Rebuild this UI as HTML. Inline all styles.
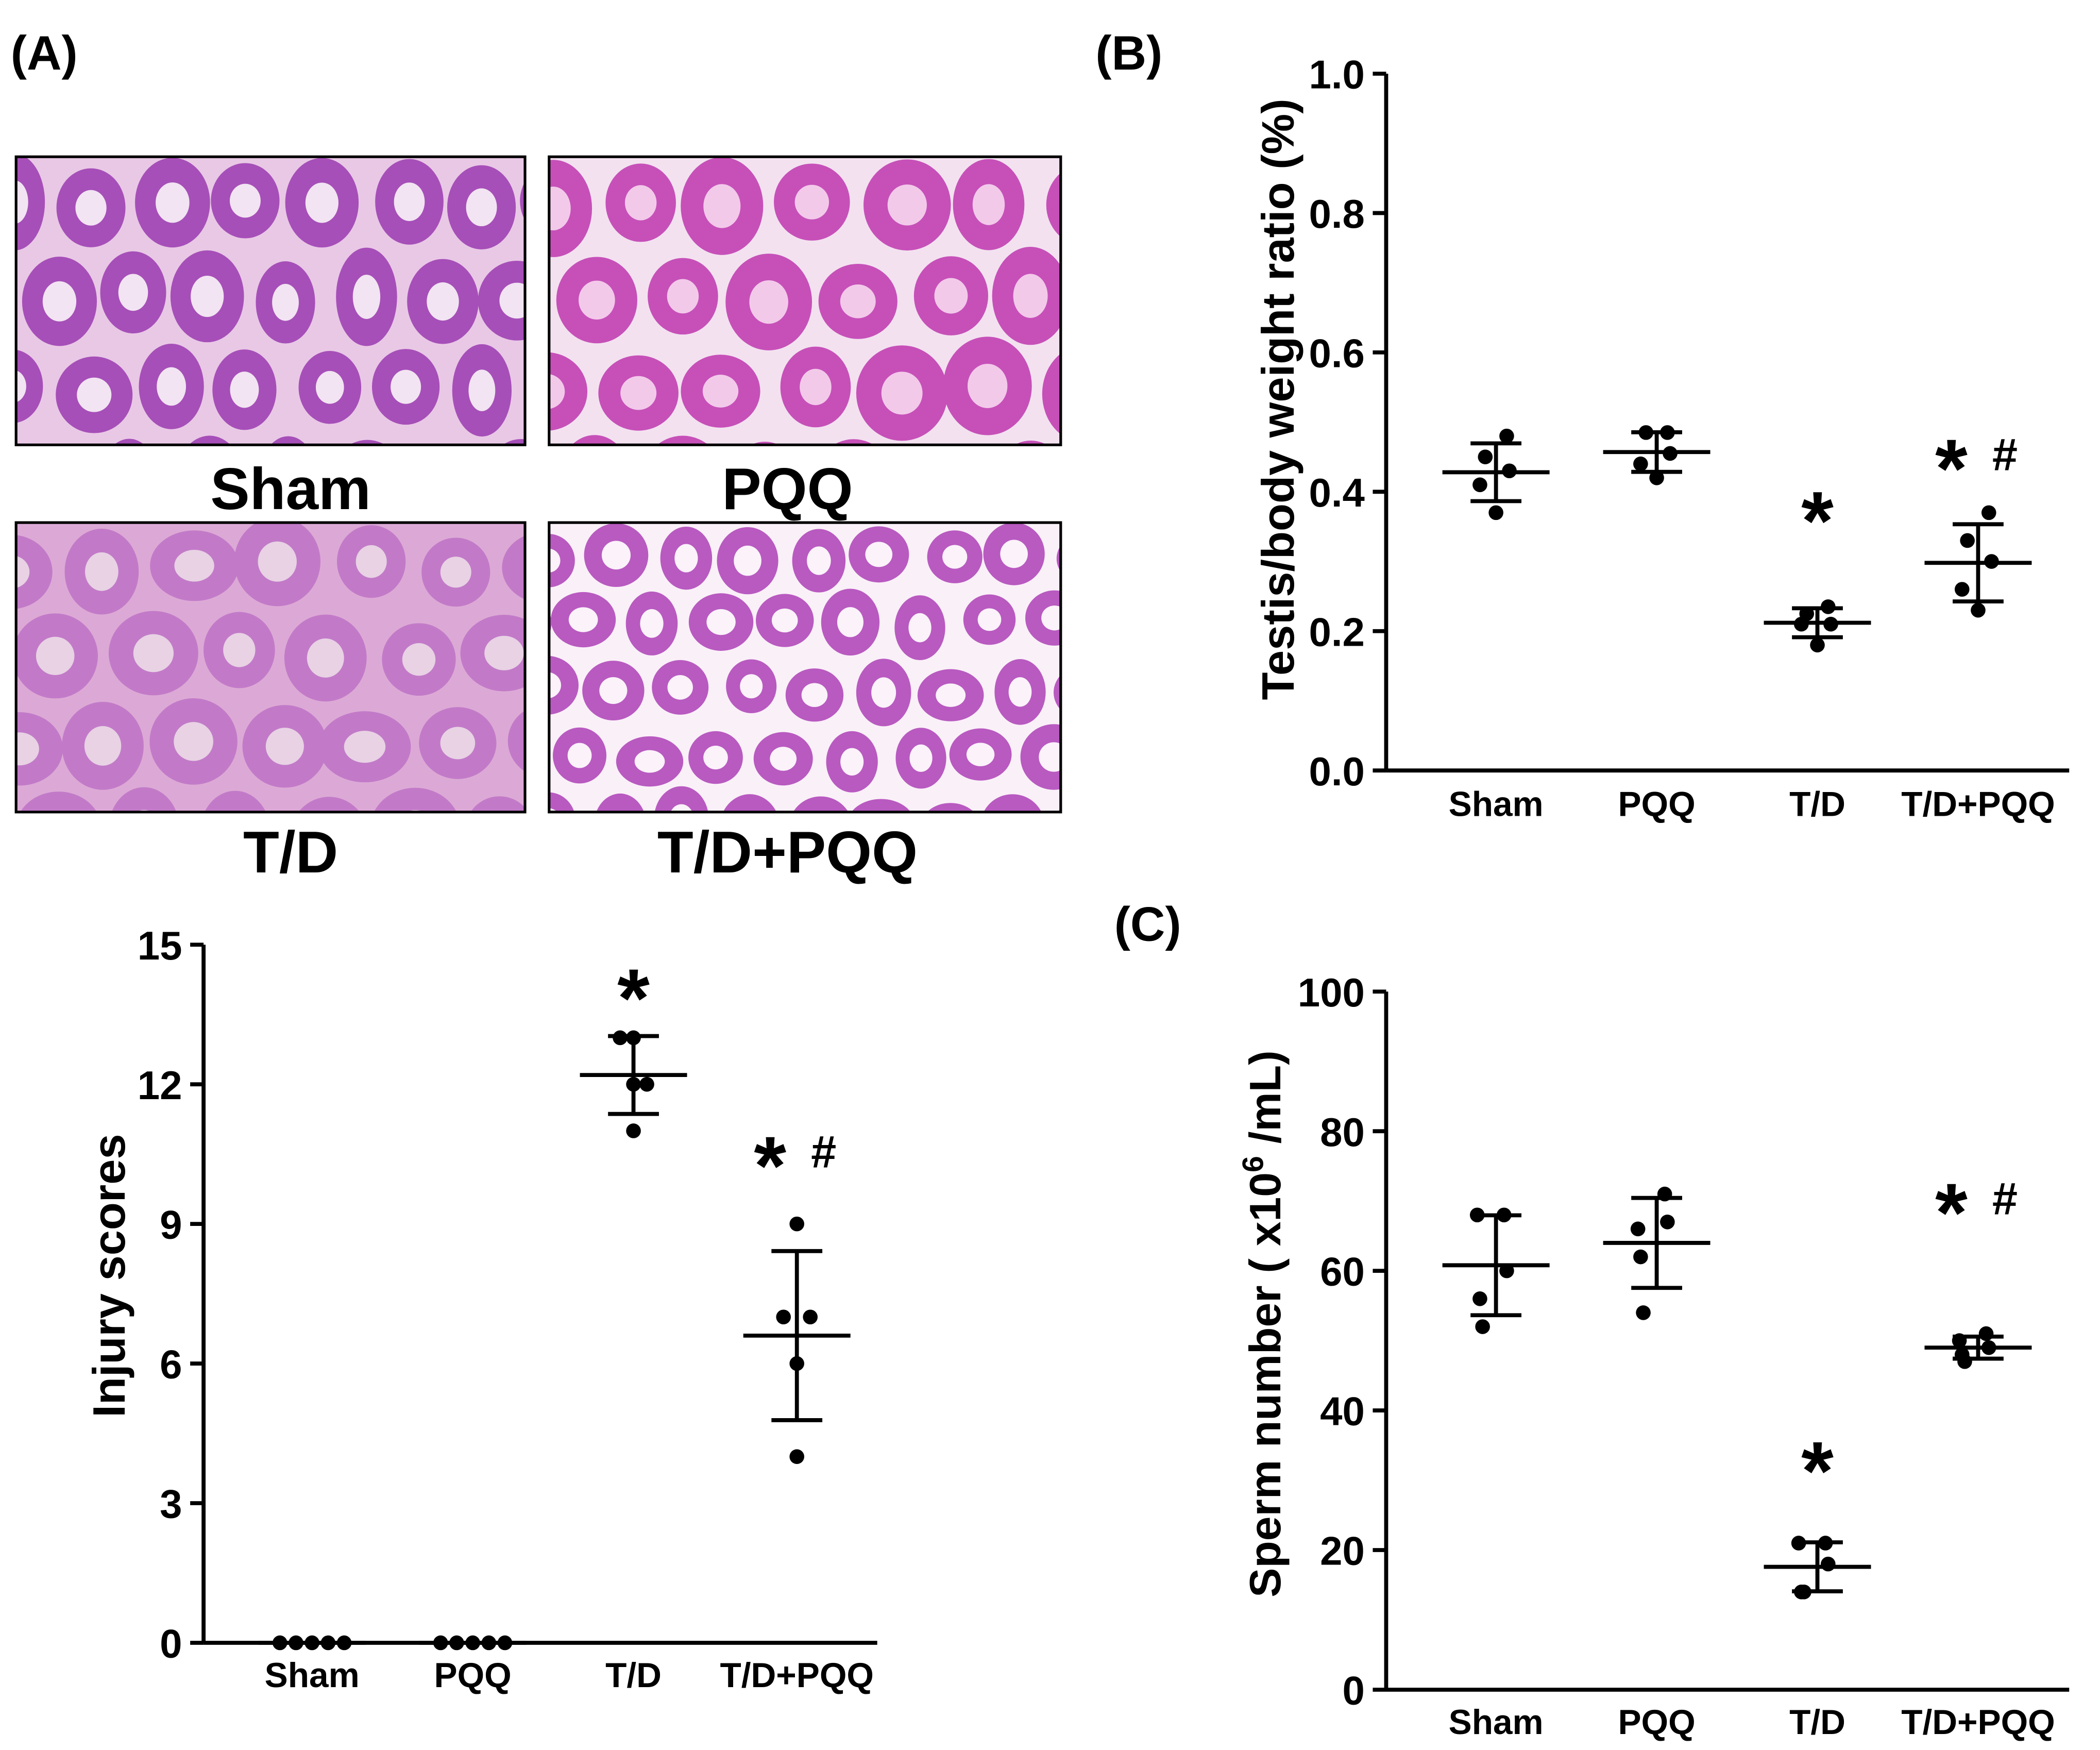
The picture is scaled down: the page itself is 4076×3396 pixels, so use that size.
<!DOCTYPE html>
<html><head><meta charset="utf-8">
<style>
html,body{margin:0;padding:0;background:#fff;}
svg{display:block;}
text{font-family:"Liberation Sans",Arial,sans-serif;font-weight:bold;fill:#000;}
</style></head>
<body>
<svg id="fig" width="4076" height="3396" viewBox="0 0 1568 1306" preserveAspectRatio="none" xmlns="http://www.w3.org/2000/svg">
<rect width="1568" height="1306" fill="#fff"/>
<text x="8" y="52" font-size="36">(A)</text>
<text x="818" y="52" font-size="36">(B)</text>
<text x="832" y="702" font-size="36">(C)</text>
<g id="histo"></g>
<text x="217" y="380" font-size="44" text-anchor="middle">Sham</text>
<text x="588" y="380" font-size="44" text-anchor="middle">PQQ</text>
<text x="217" y="651" font-size="44" text-anchor="middle">T/D</text>
<text x="588" y="651" font-size="44" text-anchor="middle">T/D+PQQ</text>
<g id="charts"></g>
</svg>
<script>
const NS="http://www.w3.org/2000/svg";
const categories=["Sham","PQQ","T/D","T/D+PQQ"];
// Panel B: testis/body weight ratio
const ratioValues=[[0.48,0.45,0.43,0.41,0.37],[0.485,0.485,0.455,0.44,0.42],[0.235,0.225,0.21,0.21,0.18],[0.37,0.33,0.30,0.26,0.23]];
const ratioTicks=["0.0","0.2","0.4","0.6","0.8","1.0"];
const ratioTickValues=[0,0.2,0.4,0.6,0.8,1.0];
const ratioMarks=["","","*","* #"];
const ratioMarkLevels=[0,0,0.375,0.45];
// Injury scores
const injuryValues=[[0,0,0,0,0],[0,0,0,0,0],[13,13,12,12,11],[9,7,7,6,4]];
const injuryTicks=["0","3","6","9","12","15"];
const injuryTickValues=[0,3,6,9,12,15];
const injuryMarks=["","","*","* #"];
const injuryMarkLevels=[0,0,14.1,10.5];
// Panel C: sperm number
const spermValues=[[68,68,60,56,52],[71,66,67,62,54],[21,21,18,14,14],[51,50,49,48,47]];
const spermTicks=["0","20","40","60","80","100"];
const spermTickValues=[0,20,40,60,80,100];
const spermMarks=["","","*","* #"];
const spermMarkLevels=[0,0,33,70];

const fig=document.getElementById('charts');
function el(tag,attrs,parent){const e=document.createElementNS(NS,tag);for(const k in attrs)e.setAttribute(k,attrs[k]);(parent||fig).appendChild(e);return e;}
function mean(a){return a.reduce((s,v)=>s+v,0)/a.length;}
function sd(a){const m=mean(a);return Math.sqrt(a.reduce((s,v)=>s+(v-m)*(v-m),0)/(a.length-1));}

function chart(cfg){
  const g=el('g',{});
  
  
  const y=v=>cfg.y0+(cfg.y1-cfg.y0)*(v-cfg.vmin)/(cfg.vmax-cfg.vmin);
  const x=i=>cfg.xs[i];
  const ya=el('line',{x1:cfg.ax,x2:cfg.ax,y1:y(cfg.vmax),y2:y(cfg.vmin),stroke:'#000','stroke-width':3},g);
  
  const xa=el('line',{x1:cfg.ax,x2:cfg.axEnd,y1:y(cfg.vmin),y2:y(cfg.vmin),stroke:'#000','stroke-width':3},g);
  
  cfg.tickValues.forEach((v,i)=>{
    el('line',{x1:cfg.ax-10,x2:cfg.ax,y1:y(v),y2:y(v),stroke:'#000','stroke-width':3},g);
    const t=el('text',{x:cfg.ax-16,y:y(v)+11,'font-size':30,'text-anchor':'end'},g);
    t.textContent=cfg.ticks[i];
    
  });
  categories.forEach((c,i)=>{
    const t=el('text',{x:x(i),y:cfg.labelY,'font-size':26,'text-anchor':'middle'},g);
    t.textContent=c;
    
  });
  const yt=el('text',{x:0,y:0,'font-size':cfg.titleSize,'text-anchor':'middle',transform:`translate(${cfg.titleX},${cfg.titleY}) rotate(-90)`},g);
  if(cfg.titleHtml){yt.innerHTML=cfg.titleHtml;}else yt.textContent=cfg.title;
  
  const offs=cfg.offsets;
  cfg.values.forEach((vals,i)=>{
    const m=mean(vals),s=sd(vals);
    const grp=el('g',{},g);
    
    
    el('line',{x1:x(i)-40,x2:x(i)+40,y1:y(m),y2:y(m),stroke:'#000','stroke-width':3},grp);
    if(s>0){
      el('line',{x1:x(i),x2:x(i),y1:y(m-s),y2:y(m+s),stroke:'#000','stroke-width':3},grp);
      el('line',{x1:x(i)-19,x2:x(i)+19,y1:y(m+s),y2:y(m+s),stroke:'#000','stroke-width':3},grp);
      el('line',{x1:x(i)-19,x2:x(i)+19,y1:y(m-s),y2:y(m-s),stroke:'#000','stroke-width':3},grp);
    }
    vals.forEach((v,j)=>{
      const ox= s>0 ? offs[j] : (j-2)*12;
      const p=el('circle',{cx:x(i)+ox,cy:y(v),r:5.5,fill:'#000'},grp);
      
    });
    if(cfg.marks[i]){
      const cy=y(cfg.markLevels[i]);
      const parts=cfg.marks[i].split(' ');
      const st=el('text',{x:x(i)-(parts.length>1?20:0),y:cy+30,'font-size':62,'text-anchor':'middle'},grp);
      st.textContent='*';
      
      if(parts.length>1){
        const h=el('text',{x:x(i)+20,y:cy+10,'font-size':34,'text-anchor':'middle'},grp);
        h.textContent='#';
        
      }
    }
  });
}
const offs=[8,-8,10,-12,0];
chart({name:'testis-weight-ratio-chart',ax:1035,axEnd:1545,y0:575,y1:55,vmin:0,vmax:1,xs:[1117,1237,1357,1477],
  values:ratioValues,ticks:ratioTicks,tickValues:ratioTickValues,marks:ratioMarks,markLevels:ratioMarkLevels,labelY:609,
  title:'Testis/body weight ratio (%)',titleX:966,titleY:298,titleSize:34,offsets:offs});
chart({name:'injury-score-chart',ax:152,axEnd:655,y0:1226,y1:705,vmin:0,vmax:15,xs:[233,353,473,595],
  values:injuryValues,ticks:injuryTicks,tickValues:injuryTickValues,marks:injuryMarks,markLevels:injuryMarkLevels,labelY:1259,
  title:'Injury scores',titleX:93,titleY:952,titleSize:34,offsets:[0,-10,10,0,0]});
chart({name:'sperm-number-chart',ax:1035,axEnd:1545,y0:1261,y1:740,vmin:0,vmax:100,xs:[1117,1237,1357,1477],
  values:spermValues,ticks:spermTicks,tickValues:spermTickValues,marks:spermMarks,markLevels:spermMarkLevels,labelY:1294,
  titleHtml:'Sperm number ( x10<tspan dy="-13" font-size="22">6</tspan><tspan dy="13"> /mL)</tspan>',titleX:956,titleY:988,titleSize:33,offsets:[6,-14,8,-12,-10]});

// Histology images (decorative texture)
const hg=document.getElementById('histo');
const imgs=[
 {n:'sham-histology-image',x:12,y:117,w:380,h:215,bg:'#e9c8e6',wall:'#a64fb8',lum:'#f2e4f2',rx:26,ry:32},
 {n:'pqq-histology-image',x:410,y:117,w:382,h:215,bg:'#f3e1f0',wall:'#c650b8',lum:'#f3c9ea',rx:30,ry:32},
 {n:'td-histology-image',x:12,y:390,w:380,h:216,bg:'#dca9d6',wall:'#c27ac8',lum:'#e8d2e4',rx:30,ry:30},
 {n:'td-pqq-histology-image',x:410,y:390,w:382,h:216,bg:'#faf0f8',wall:'#b85ac0',lum:'#fbf2fa',rx:22,ry:22}
];
let seed=7;function rnd(){seed=(seed*9301+49297)%233280;return seed/233280;}
imgs.forEach(im=>{
  const g=el('g',{},hg);
  
  const cp=el('clipPath',{id:'c'+im.n},g);el('rect',{x:im.x,y:im.y,width:im.w,height:im.h},cp);
  const inner=el('g',{'clip-path':`url(#c${im.n})`},g);
  el('rect',{x:im.x,y:im.y,width:im.w,height:im.h,fill:im.bg},inner);
  const sx=im.rx*2+6,sy=im.ry*2+6;
  for(let r=-1;r*sy<im.h+sy;r++){for(let c=-1;c*sx<im.w+sx;c++){
    const cx=im.x+c*sx+(r%2?sx/2:0)+(rnd()-0.5)*8, cy=im.y+r*sy+sy/2+(rnd()-0.5)*8;
    const a=im.rx*(0.85+rnd()*0.3), b=im.ry*(0.85+rnd()*0.3);
    el('ellipse',{cx,cy,rx:a,ry:b,fill:im.wall},inner);
    el('ellipse',{cx,cy,rx:a*0.45,ry:b*0.45,fill:im.lum},inner);
  }}
  el('rect',{x:im.x,y:im.y,width:im.w,height:im.h,fill:'none',stroke:'#000','stroke-width':2},g);
});
</script>
</body></html>
